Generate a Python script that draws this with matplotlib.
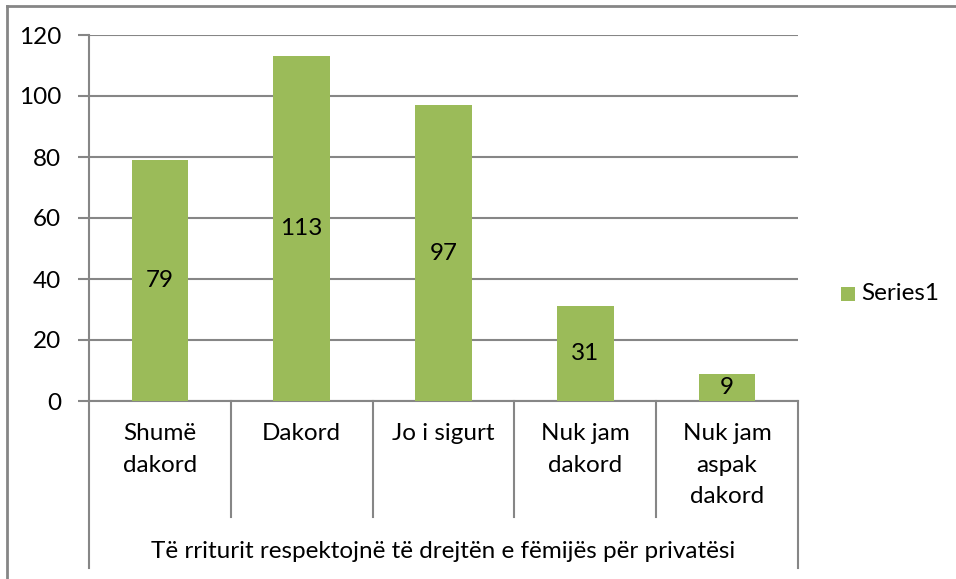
import matplotlib.pyplot as plt
from matplotlib.lines import Line2D
from matplotlib.patches import Rectangle

# Data
categories = ["Shumë\ndakord", "Dakord", "Jo i sigurt", "Nuk jam\ndakord", "Nuk jam\naspak\ndakord"]
values = [79, 113, 97, 31, 9]
group_label = "Të rriturit respektojnë të drejtën e fëmijës për privatësi"
series_name = "Series1"
y_ticks = [0, 20, 40, 60, 80, 100, 120]

BAR_COLOR = "#9BBB59"
GRID_COLOR = "#868686"
FONTSIZE = 17.5

plt.rcParams['font.family'] = ['Lato', 'DejaVu Sans']

W, H = 956, 579
fig = plt.figure(figsize=(W / 100, H / 100), dpi=100)

# plot area in pixels
left_px, right_px, top_px, bottom_px = 89, 798, 35, 401
ax = fig.add_axes([left_px / W, 1 - bottom_px / H, (right_px - left_px) / W, (bottom_px - top_px) / H])

x = list(range(len(categories)))
bars = ax.bar(x, values, width=0.4, color=BAR_COLOR, zorder=3)

# value labels in the middle of each bar
for xi, v in zip(x, values):
    ax.text(xi, v / 2, str(v), ha='center', va='center', fontsize=FONTSIZE, zorder=4)

ax.set_xlim(-0.5, len(categories) - 0.5)
ax.set_ylim(0, 120)
ax.set_yticks(y_ticks)
ax.yaxis.grid(True, color=GRID_COLOR, linewidth=1.5, zorder=0)
ax.tick_params(axis='y', length=8, width=1.5, color=GRID_COLOR, labelsize=FONTSIZE, pad=12)
ax.set_xticks([])

for side in ['top', 'right']:
    ax.spines[side].set_visible(False)
for side in ['left', 'bottom']:
    ax.spines[side].set_color(GRID_COLOR)
    ax.spines[side].set_linewidth(1.5)

# category separators below the axis
plot_h = bottom_px - top_px
inner_drop = -(517 - bottom_px) / plot_h
outer_drop = -(568 - bottom_px) / plot_h
n = len(categories)
for k in range(n + 1):
    y_end = outer_drop if k in (0, n) else inner_drop
    ax.plot([k / n, k / n], [0, y_end], transform=ax.transAxes, color=GRID_COLOR,
            linewidth=1.5, clip_on=False)

# category labels
for k, cat in enumerate(categories):
    ax.text((k + 0.5) / n, -(423 - bottom_px) / plot_h, cat, transform=ax.transAxes,
            ha='center', va='top', fontsize=FONTSIZE, linespacing=1.62)

# group label
ax.text(0.5, -(551 - bottom_px) / plot_h, group_label, transform=ax.transAxes,
        ha='center', va='center', fontsize=FONTSIZE)

# legend
fig.add_artist(Rectangle((841 / W, 1 - 301 / H), 14 / W, 14 / H, transform=fig.transFigure,
                         facecolor=BAR_COLOR, edgecolor='none'))
fig.text(861 / W, 1 - 294 / H, series_name, ha='left', va='center', fontsize=FONTSIZE)

# outer chart frame (top and left edges visible)
fig.add_artist(Line2D([7 / W, 1], [1 - 6 / H, 1 - 6 / H], transform=fig.transFigure,
                      color=GRID_COLOR, linewidth=2))
fig.add_artist(Line2D([7 / W, 7 / W], [0, 1 - 6 / H], transform=fig.transFigure,
                      color=GRID_COLOR, linewidth=2))

fig.savefig("out.png", dpi=100)
